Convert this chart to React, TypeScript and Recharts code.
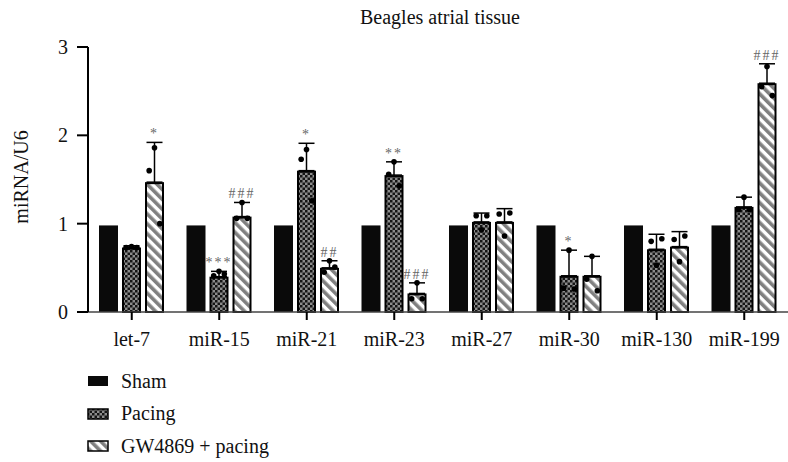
import React from 'react';
import { BarChart, Bar, XAxis, YAxis, ErrorBar, Legend } from 'recharts';

const categories = ['let-7', 'miR-15', 'miR-21', 'miR-23', 'miR-27', 'miR-30', 'miR-130', 'miR-199'];
const shamValues = [0.98, 0.98, 0.98, 0.98, 0.98, 0.98, 0.98, 0.98];
const pacingValues = [0.73, 0.4, 1.6, 1.55, 1.02, 0.41, 0.71, 1.19];
const pacingErrors = [0.02, 0.06, 0.31, 0.15, 0.1, 0.29, 0.17, 0.11];
const pacingDots = [
  [0.74, 0.73, 0.73],
  [0.46, 0.41, 0.43],
  [1.84, 1.73, 1.26],
  [1.7, 1.56, 1.43],
  [0.93, 1.09, 1.09],
  [0.7, 0.27, 0.26],
  [0.53, 0.8, 0.83],
  [1.3, 1.16, 1.16],
];
const pacingSig = ['', '***', '*', '**', '', '*', '', ''];
const gwValues = [1.47, 1.08, 0.5, 0.21, 1.02, 0.41, 0.74, 2.59];
const gwErrors = [0.45, 0.16, 0.08, 0.12, 0.15, 0.22, 0.17, 0.22];
const gwDots = [
  [1.86, 1.6, 1.0],
  [1.24, 1.06, 1.06],
  [0.58, 0.45, 0.51],
  [0.33, 0.15, 0.15],
  [0.86, 1.11, 1.12],
  [0.63, 0.37, 0.24],
  [0.57, 0.82, 0.86],
  [2.78, 2.55, 2.45],
];
const gwSig = ['*', '###', '##', '###', '', '', '', '###'];
const yTicks = [0, 1, 2, 3];
const seriesNames = ['Sham', 'Pacing', 'GW4869 + pacing'];

const data = categories.map((c, i) => ({
  name: c,
  sham: shamValues[i],
  pacing: pacingValues[i],
  pacingErr: [0, pacingErrors[i]],
  gw: gwValues[i],
  gwErr: [0, gwErrors[i]],
}));

const FONT = 'Liberation Serif, Times New Roman, serif';
const DOT_OFFSETS = [0, -0.28, 0.28];

const makeShape = (key: string, fill: string, bordered: boolean, dots?: number[][], errs?: number[], sigs?: string[]) =>
  (props: any) => {
    const { x, y, width, height, index, payload } = props;
    const v = payload[key];
    const ppu = v > 0 ? height / v : 0;
    const base = y + height;
    const cx = x + width / 2;
    return (
      <g>
        {bordered ? (
          <rect x={x + 1} y={y + 1} width={width - 2} height={Math.max(height - 1, 0)} fill={fill} stroke="#000" strokeWidth={2} />
        ) : (
          <rect x={x} y={y} width={width} height={height} fill={fill} />
        )}
        {dots && dots[index].map((d, j) => (
          <circle key={j} cx={cx + DOT_OFFSETS[j] * width} cy={base - d * ppu} r={2.8} fill="#000" />
        ))}
        {sigs && errs && sigs[index] ? (
          <text x={cx} y={base - (v + errs[index]) * ppu - 4} textAnchor="middle" fontSize={14} letterSpacing={2} fill="#666" fontFamily={FONT}>
            {sigs[index]}
          </text>
        ) : null}
      </g>
    );
  };

const legendFills = ['#0a0a0a', 'url(#checker)', 'url(#stripes)'];

const renderLegend = () => (
  <div style={{ fontFamily: FONT, fontSize: 20, color: '#111' }}>
    {seriesNames.map((n, i) => (
      <div key={n} style={{ display: 'flex', alignItems: 'center', height: 32.5 }}>
        <svg width={22} height={12} style={{ marginRight: 12 }}>
          <rect x={1} y={1} width={20} height={10} fill={legendFills[i]} stroke={i === 0 ? 'none' : '#000'} strokeWidth={i === 0 ? 0 : 1.5} />
        </svg>
        <span>{n}</span>
      </div>
    ))}
  </div>
);

export default function App() {
  return (
    <div style={{ position: 'absolute', left: 0, top: 0, width: 788, height: 462, background: '#fff' }}>
      <BarChart
        width={788}
        height={462}
        data={data}
        margin={{ top: 47, right: 0, bottom: 120, left: 0 }}
        barSize={19}
        barGap={4}
      >
        <defs>
          <pattern id="checker" patternUnits="userSpaceOnUse" width={5} height={5}>
            <rect x={0} y={0} width={5} height={5} fill="#8c8c8c" />
            <rect x={0} y={0} width={2.5} height={2.5} fill="#151515" />
            <rect x={2.5} y={2.5} width={2.5} height={2.5} fill="#151515" />
          </pattern>
          <pattern id="stripes" patternUnits="userSpaceOnUse" width={7} height={7} patternTransform="rotate(-45)">
            <rect x={0} y={0} width={7} height={7} fill="#ffffff" />
            <rect x={0} y={0} width={3.6} height={7} fill="#808080" />
          </pattern>
        </defs>
        <text x={440} y={24} textAnchor="middle" fontSize={20} fontFamily={FONT} fill="#111">
          Beagles atrial tissue
        </text>
        <XAxis
          dataKey="name"
          axisLine={{ stroke: '#444', strokeWidth: 1.5 }}
          tickLine={{ stroke: '#000', strokeWidth: 2 }}
          tickSize={8}
          tickMargin={12}
          tick={{ fontSize: 20, fontFamily: FONT, fill: '#111' }}
        />
        <YAxis
          width={88}
          domain={[0, 3]}
          ticks={yTicks}
          axisLine={{ stroke: '#000', strokeWidth: 2 }}
          tickLine={{ stroke: '#000', strokeWidth: 2 }}
          tickSize={11}
          tickMargin={9}
          tick={{ fontSize: 20, fontFamily: FONT, fill: '#111' }}
          label={{
            content: () => (
              <text x={21} y={177} transform="rotate(-90 21 177)" textAnchor="middle" dominantBaseline="central" fontSize={20} fontFamily={FONT} fill="#111">
                miRNA/U6
              </text>
            ),
          }}
        />
        <Legend
          layout="vertical"
          align="center"
          verticalAlign="middle"
          wrapperStyle={{ position: 'absolute', left: 87, top: 365, width: 260 }}
          content={renderLegend}
        />
        <Bar dataKey="sham" name="Sham" fill="#0a0a0a" isAnimationActive={false} shape={makeShape('sham', '#0a0a0a', false)} />
        <Bar dataKey="pacing" name="Pacing" fill="url(#checker)" isAnimationActive={false}
          shape={makeShape('pacing', 'url(#checker)', true, pacingDots, pacingErrors, pacingSig)}>
          <ErrorBar dataKey="pacingErr" width={8} stroke="#000" strokeWidth={1.5} direction="y" />
        </Bar>
        <Bar dataKey="gw" name="GW4869 + pacing" fill="url(#stripes)" isAnimationActive={false}
          shape={makeShape('gw', 'url(#stripes)', true, gwDots, gwErrors, gwSig)}>
          <ErrorBar dataKey="gwErr" width={8} stroke="#000" strokeWidth={1.5} direction="y" />
        </Bar>
      </BarChart>
    </div>
  );
}
